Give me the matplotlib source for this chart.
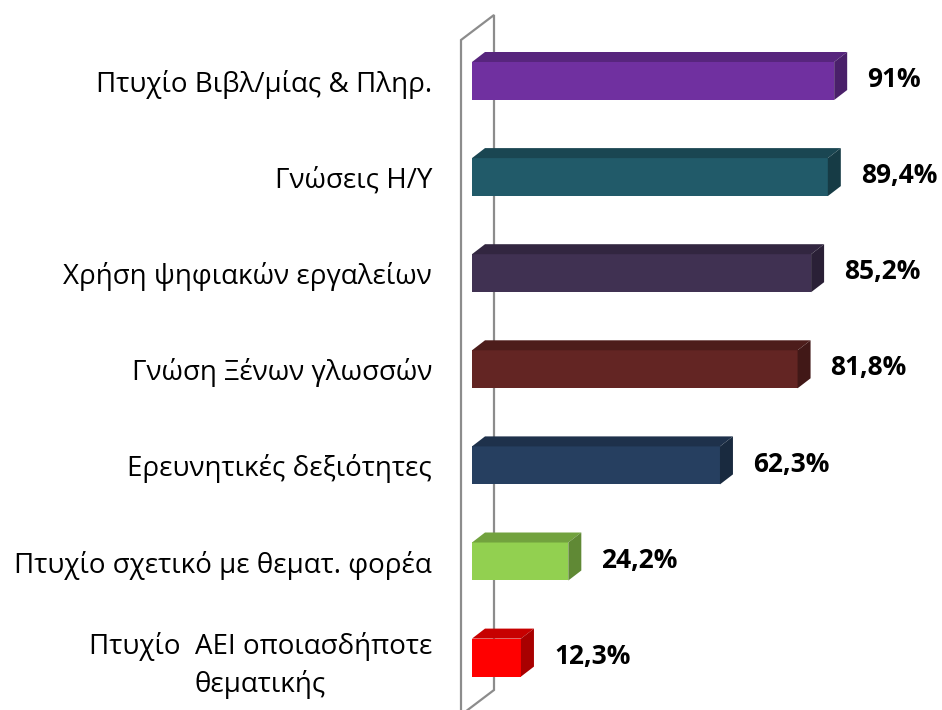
import numpy as np
import matplotlib.pyplot as plt
from matplotlib.patches import Polygon
from matplotlib.colors import to_rgb

plt.rcParams['font.family'] = ['Open Sans', 'DejaVu Sans']

categories = [
    'Πτυχίο Βιβλ/μίας & Πληρ.',
    'Γνώσεις Η/Υ',
    'Χρήση ψηφιακών εργαλείων',
    'Γνώση Ξένων γλωσσών',
    'Ερευνητικές δεξιότητες',
    'Πτυχίο σχετικό με θεματ. φορέα',
    'Πτυχίο  ΑΕΙ οποιασδήποτε\nθεματικής',
]
values = [91, 89.4, 85.2, 81.8, 62.3, 24.2, 12.3]
value_labels = ['91%', '89,4%', '85,2%', '81,8%', '62,3%', '24,2%', '12,3%']
colors = ['#7030A0', '#215A69', '#403152', '#632523', '#263F60', '#92D050', '#FF0000']

# pixel scale of the reference: ~3.98 px per %, ~96 px between bars
W, H = 942, 710
px_x = 3.98
px_y = 96.1
x0_px = 472          # where 0% sits
y0_px = 81           # centre of first bar

fig = plt.figure(figsize=(W / 100, H / 100), dpi=100)
ax = fig.add_axes([461 / W, 0, (W - 461) / W, 1])
ax.set_xlim((461 - x0_px) / px_x, (W - x0_px) / px_x)
ax.set_ylim((H - y0_px) / px_y, -y0_px / px_y)

h = 38 / px_y
dx, dy = 13 / px_x, -10 / px_y


def shade(c, f):
    r, g, b = to_rgb(c)
    return (r * f, g * f, b * f)


# back wall (3d frame)
wdx, wdy = 33 / px_x, -25 / px_y
xf = ax.get_xlim()[0]
yt, yb = (40 - y0_px) / px_y, (715 - y0_px) / px_y
wall_x = [xf, xf, xf + wdx, xf + wdx, xf]
wall_y = [yb, yt, yt + wdy, yb + wdy, yb]
ax.plot(wall_x, wall_y, color='#8C8C8C', lw=1.6, zorder=1, clip_on=False,
        solid_joinstyle='miter')

ypos = np.arange(len(values))
for y, v, c in zip(ypos, values, colors):
    ax.barh(y, v, height=h, left=0, color=c, zorder=3)
    top = [(0, y - h / 2), (v, y - h / 2), (v + dx, y - h / 2 + dy), (dx, y - h / 2 + dy)]
    side = [(v, y - h / 2), (v, y + h / 2), (v + dx, y + h / 2 + dy), (v + dx, y - h / 2 + dy)]
    ax.add_patch(Polygon(top, closed=True, color=shade(c, 0.78), zorder=3, lw=0))
    ax.add_patch(Polygon(side, closed=True, color=shade(c, 0.66), zorder=3, lw=0))

for y, v, lab in zip(ypos, values, value_labels):
    ax.annotate(lab, (v, y), xytext=(33 * 0.72, 1), textcoords='offset points',
                ha='left', va='center', fontsize=19, fontweight='bold', color='black')

ax.set_yticks(ypos)
ax.set_yticklabels(categories, fontsize=20, multialignment='center', linespacing=1.4)
ax.tick_params(axis='y', length=0, pad=29 * 0.72)
ax.set_xticks([])
for s in ax.spines.values():
    s.set_visible(False)

fig.savefig('out.png', dpi=100)
